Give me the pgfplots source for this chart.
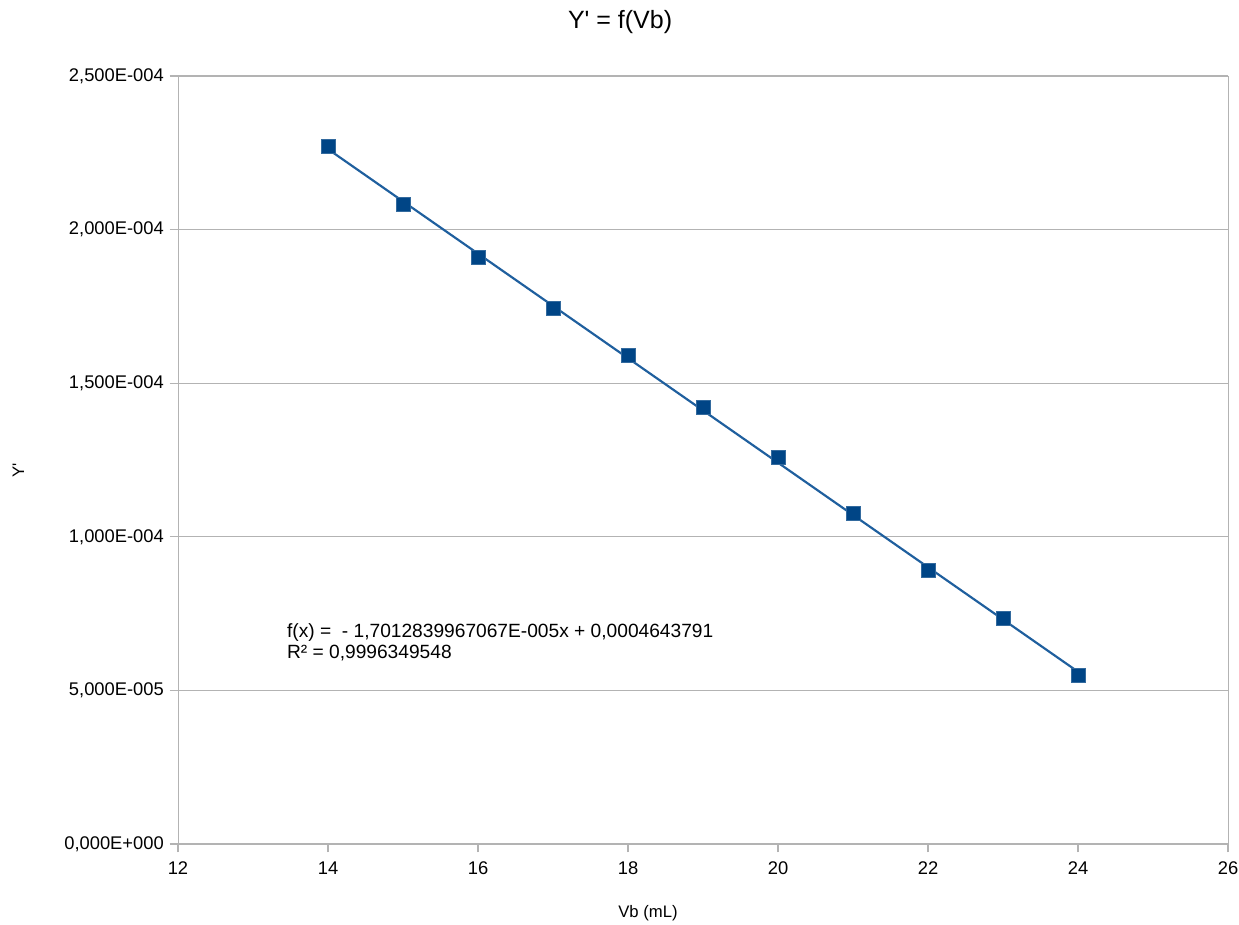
\documentclass[border=0pt]{standalone}
\usepackage{fontspec}
\setmainfont{Liberation Sans}[Ligatures=ResetAll]
\usepackage{pgfplots}
\pgfplotsset{compat=1.18}
\definecolor{serie}{HTML}{004586}
\definecolor{trend}{HTML}{1F5F9E}
\definecolor{gridc}{HTML}{B3B3B3}

\begin{document}
\begin{tikzpicture}
\useasboundingbox (0,0) rectangle (743.4pt,554.4pt);
\begin{axis}[
    at={(106.8pt,48pt)}, anchor=south west,
    scale only axis,
    width=630pt, height=460.8pt,
    xmin=12, xmax=26, ymin=0, ymax=2.5e-4,
    xtick={12,14,...,26},
    ytick={0,5e-5,1e-4,1.5e-4,2e-4,2.5e-4},
    yticklabels={{0,000E+000},{5,000E-005},{1,000E-004},{1,500E-004},{2,000E-004},{2,500E-004}},
    yticklabel style={font=\fontsize{11}{13}\selectfont},
    xticklabel style={font=\fontsize{11}{13}\selectfont, yshift=-2pt},
    /pgf/number format/assume math mode=true,
    scaled y ticks=false,
    axis line style={gridc},
    tick style={gridc, line width=0.8pt},
    tick align=outside,
    major tick length=5pt,
    xtick pos=bottom, ytick pos=left,
    ymajorgrids,
    grid style={gridc, line width=0.8pt},
    xlabel={Vb (mL)},
    xlabel style={font=\fontsize{10}{12}\selectfont, at={(axis description cs:0.4476,-0.0905)}, anchor=center},
    ylabel={Y\textquotesingle},
    ylabel style={font=\fontsize{10}{12}\selectfont, at={(axis description cs:-0.152,0.487)}, anchor=center},
    clip=false,
]
\addplot[trend, line width=1.3pt] coordinates {(14,2.26199e-4) (24,0.56071e-4)};
\addplot[only marks, mark=square*, mark size=4.2pt, mark options={fill=serie, draw=serie!80!white, line width=0.5pt}] coordinates {
    (14,2.272e-4)
    (15,2.083e-4)
    (16,1.911e-4)
    (17,1.742e-4)
    (18,1.589e-4)
    (19,1.4225e-4)
    (20,1.260e-4)
    (21,1.0775e-4)
    (22,0.892e-4)
    (23,0.7357e-4)
    (24,0.550e-4)
};
\node[anchor=north west, align=left, inner sep=0pt, font=\fontsize{11.5}{12.6}\selectfont] at (axis cs:13.45,0.72e-4)
    {f(x) =~~- 1,7012839967067E-005x + 0,0004643791\\R² = 0,9996349548};
\node[anchor=center, inner sep=0pt, font=\fontsize{15}{18}\selectfont] at (rel axis cs:0.421,1.0703)
    {Y\textquotesingle{} = f(Vb)};
\end{axis}
\end{tikzpicture}
\end{document}
